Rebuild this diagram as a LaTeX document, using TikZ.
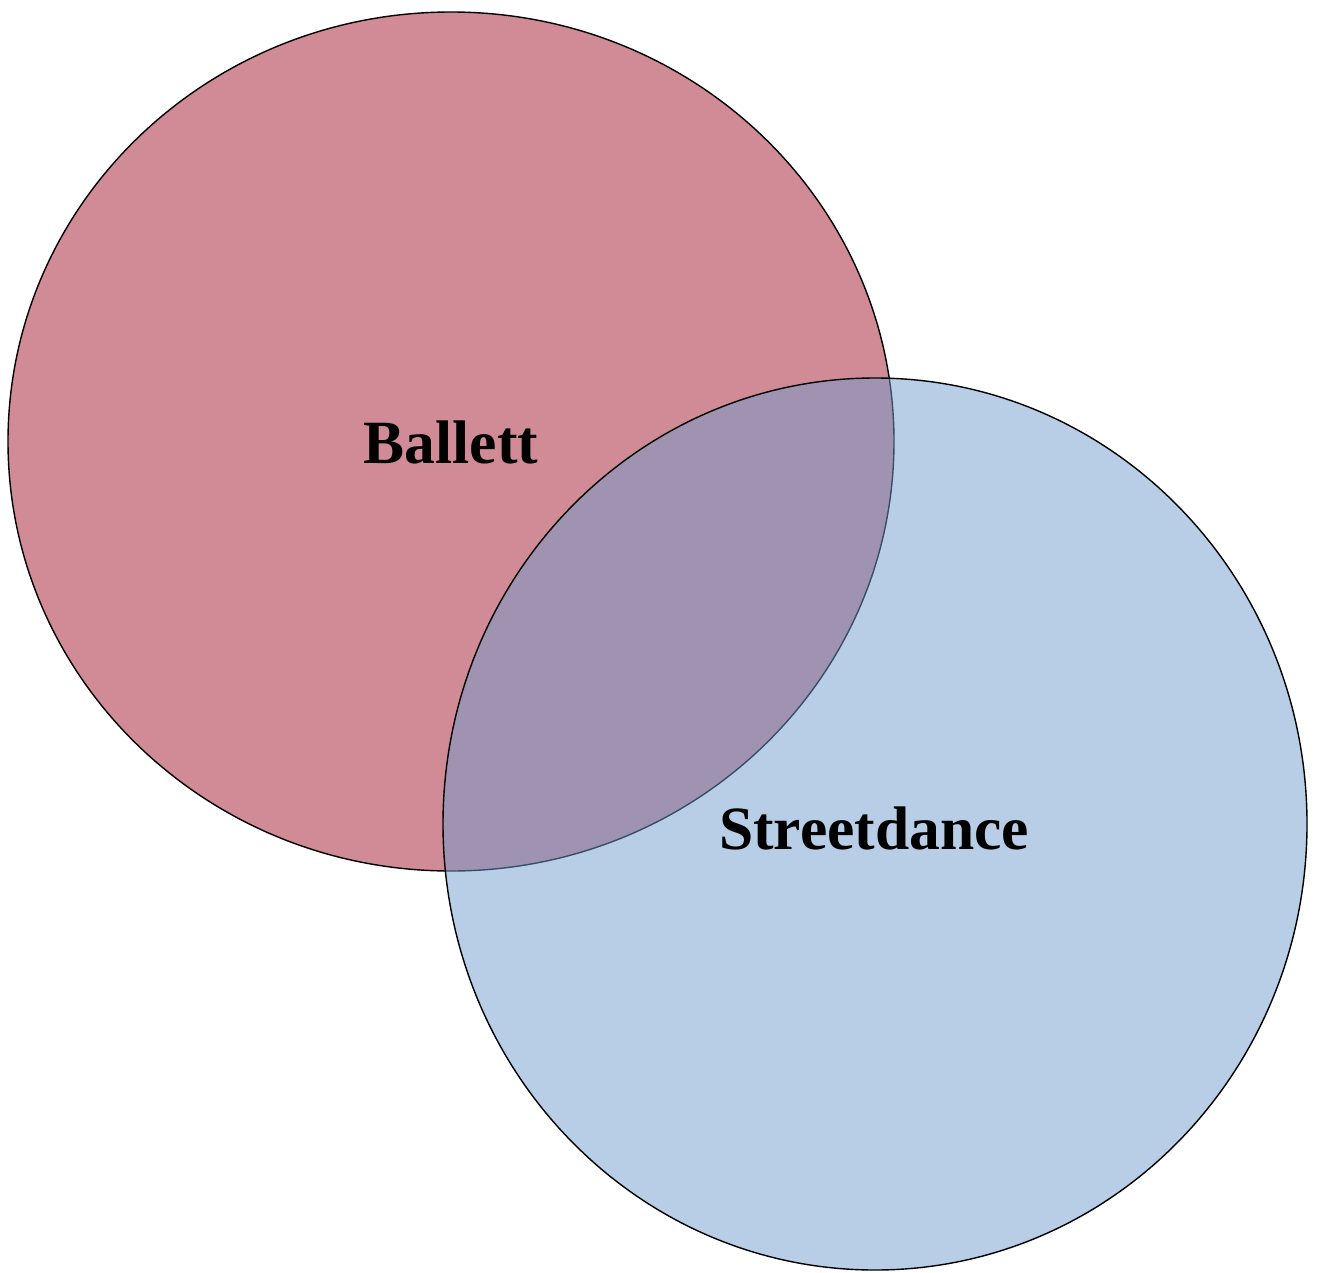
\documentclass[tikz,border=0pt]{standalone}
\usepackage{fontspec}
\setmainfont{Liberation Serif}
\usepackage{tikz}

\definecolor{balletred}{RGB}{163,23,45}
\definecolor{streetblue}{RGB}{113,157,205}

\begin{document}
\begin{tikzpicture}[
    set/.style={draw=black, line width=0.4pt, fill opacity=0.5},
    setlabel/.style={font=\fontsize{17.5}{21}\selectfont\bfseries, text=black}
]
\useasboundingbox (0,0) rectangle (13.17,12.72);

% Ballett set
\draw[set, fill=balletred] (4.51,8.305) ellipse [x radius=4.43, y radius=4.295];
\node[setlabel] (ballett) at (4.51,8.30) {Ballett};

% Streetdance set
\draw[set, fill=streetblue] (8.75,4.48) ellipse [x radius=4.32, y radius=4.46];
\node[setlabel] (streetdance) at (8.74,4.44) {Streetdance};
\end{tikzpicture}
\end{document}
